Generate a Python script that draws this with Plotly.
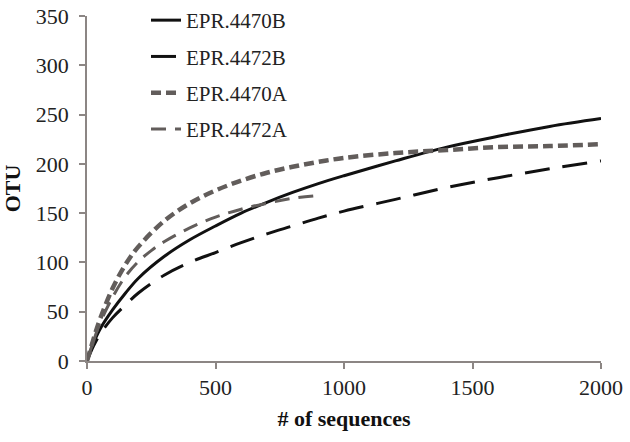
import plotly.graph_objects as go

x_full = [0, 25, 50, 100, 150, 200, 300, 400, 500, 600, 700, 800, 900, 1000, 1200, 1400, 1600, 1800, 2000]
epr4470B = [0, 18, 32, 52, 69, 84, 106, 123, 137, 150, 161, 171, 180, 188, 203, 217, 228, 238, 246]
epr4472B = [0, 15, 27, 44, 57, 69, 87, 100, 110, 120, 129, 137, 145, 152, 164, 176, 186, 195, 203]
epr4470A = [0, 22, 42, 74, 98, 116, 142, 160, 173, 183, 191, 197, 202, 206, 211, 214, 217, 218, 220]
x_4472A = [0, 25, 50, 100, 150, 200, 250, 300, 400, 500, 600, 700, 800, 900]
epr4472A = [0, 20, 38, 65, 86, 101, 112, 121, 135, 146, 154, 160, 165, 168]

black = "#111111"
gray = "#625d5b"
axis_col = "#8c8684"
font = "Liberation Serif"

fig = go.Figure()
fig.add_trace(go.Scatter(x=x_full, y=epr4470B, mode="lines", name="EPR.4470B",
                         line=dict(color=black, width=3, shape="spline"), legendgroup="a"))
fig.add_trace(go.Scatter(x=x_full, y=epr4472B, mode="lines", name="EPR.4472B",
                         line=dict(color=black, width=3, dash="25px,13px", shape="spline"), legendgroup="b"))
fig.add_trace(go.Scatter(x=x_full, y=epr4470A, mode="lines", name="EPR.4470A",
                         line=dict(color=gray, width=4.5, dash="10px,5px", shape="spline"), legendgroup="c"))
fig.add_trace(go.Scatter(x=x_4472A, y=epr4472A, mode="lines", name="EPR.4472A",
                         line=dict(color=gray, width=3, dash="15px,9px", shape="spline"), legendgroup="d"))

fig.update_layout(
    width=630, height=442,
    margin=dict(l=87, r=29, t=16, b=81, autoexpand=False),
    plot_bgcolor="white", paper_bgcolor="white",
    font=dict(family=font, size=21, color="#222222"),
    showlegend=True,
    legend=dict(x=0.1148, y=1.0464, xanchor="left", yanchor="top",
                font=dict(family=font, size=21, color="#222222"),
                bgcolor="rgba(0,0,0,0)", tracegroupgap=6, itemwidth=30),
    xaxis=dict(range=[0, 2000], tickvals=[0, 500, 1000, 1500, 2000], automargin=False,
               showgrid=False, zeroline=False, showline=True, linecolor=axis_col, linewidth=1.5,
               ticks="outside", ticklen=6, tickcolor=axis_col, tickwidth=1.5,
               tickfont=dict(family=font, size=22, color="#222222"),
               title=dict(text="<b># of sequences</b>", font=dict(family=font, size=22, color="#111111"), standoff=11)),
    yaxis=dict(range=[0, 350], tickvals=[0, 50, 100, 150, 200, 250, 300, 350], automargin=False,
               showgrid=False, zeroline=False, showline=True, linecolor=axis_col, linewidth=1.5,
               ticks="outside", ticklen=6, tickcolor=axis_col, tickwidth=1.5, ticklabelstandoff=6,
               tickfont=dict(family=font, size=22, color="#222222"),
               title=dict(text="<b>OTU</b>", font=dict(family=font, size=22, color="#111111"), standoff=10)),
)

fig.write_html("out.html", config={"displayModeBar": False},
               post_script="document.body.style.margin='0px';")
